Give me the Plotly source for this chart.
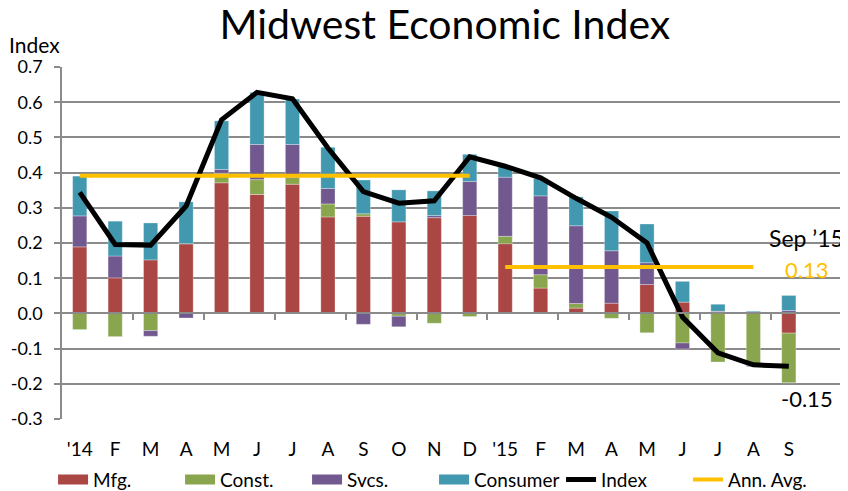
import plotly.graph_objects as go

# Monthly contributions to the index, Jan 2014 - Sep 2015
months = ["'14", "F", "M", "A", "M", "J", "J", "A", "S", "O", "N", "D",
          "'15", "F", "M", "A", "M", "J", "J", "A", "S"]
mfg = [0.189, 0.101, 0.152, 0.198, 0.371, 0.338, 0.367, 0.274, 0.276, 0.260, 0.272,
       0.278, 0.198, 0.072, 0.015, 0.029, 0.082, 0.032, 0.006, 0.002, -0.056]
const = [-0.046, -0.066, -0.049, 0.0, 0.027, 0.042, 0.019, 0.037, 0.007, -0.008, -0.028,
         -0.009, 0.021, 0.038, 0.013, -0.014, -0.055, -0.084, -0.138, -0.148, -0.141]
svcs = [0.088, 0.062, -0.016, -0.013, 0.011, 0.100, 0.094, 0.044, -0.031, -0.030, 0.006,
        0.097, 0.168, 0.224, 0.221, 0.149, 0.062, -0.017, 0.0, -0.003, 0.008]
consumer = [0.113, 0.099, 0.105, 0.119, 0.138, 0.148, 0.129, 0.117, 0.096, 0.091, 0.070,
            0.077, 0.030, 0.049, 0.082, 0.113, 0.110, 0.059, 0.020, 0.004, 0.043]
index = [0.344, 0.196, 0.194, 0.305, 0.550, 0.628, 0.610, 0.470, 0.346, 0.313, 0.320,
         0.445, 0.418, 0.385, 0.327, 0.273, 0.200, -0.010, -0.112, -0.146, -0.150]
ann_avg_2014 = 0.391
ann_avg_2015 = 0.132
avg_2014_span = (0, 11)   # '14 .. D
avg_2015_span = (12, 19)  # '15 .. A

y_ticks = [-0.3, -0.2, -0.1, 0.0, 0.1, 0.2, 0.3, 0.4, 0.5, 0.6, 0.7]

FONT = "Lato"
GRID = "#8a8a8a"

x = list(range(len(months)))
n_slots = len(months) + 1  # one empty slot on the right for the end labels

fig = go.Figure()
series = [
    ("Mfg.", mfg, "#AA4643"),
    ("Const.", const, "#89A54E"),
    ("Svcs.", svcs, "#71588F"),
    ("Consumer", consumer, "#4198AF"),
]
for name, vals, colour in series:
    fig.add_trace(go.Bar(
        x=x, y=vals, name=name, legendgroup=name, showlegend=False,
        marker=dict(color=colour, line=dict(color="rgba(255,255,255,0.5)", width=0.6)),
        width=0.4,
    ))
    # wide flat swatch for the legend, like the Excel original
    fig.add_trace(go.Scatter(
        x=[None], y=[None], name=name, legendgroup=name, mode="lines",
        line=dict(color=colour, width=11), hoverinfo="skip",
    ))

fig.add_trace(go.Scatter(
    x=x, y=index, name="Index", mode="lines",
    line=dict(color="black", width=5),
))

avg_x = (list(range(avg_2014_span[0], avg_2014_span[1] + 1)) + [None]
         + list(range(avg_2015_span[0], avg_2015_span[1] + 1)))
avg_y = ([ann_avg_2014] * (avg_2014_span[1] - avg_2014_span[0] + 1) + [None]
         + [ann_avg_2015] * (avg_2015_span[1] - avg_2015_span[0] + 1))
fig.add_trace(go.Scatter(
    x=avg_x, y=avg_y, name="Ann. Avg.", mode="lines",
    line=dict(color="#FFC000", width=4), connectgaps=False,
))

# invisible helper trace carrying the zero-line axis with its tick marks
fig.add_trace(go.Scatter(x=[None], y=[None], xaxis="x2", showlegend=False, hoverinfo="skip"))

label_x = len(months) - 0.5
fig.add_annotation(x=label_x, y=ann_avg_2015, text="Sep \u201915", showarrow=False,
                   yshift=29, font=dict(size=23, color="black", family=FONT))
fig.add_annotation(x=label_x, y=ann_avg_2015, text=f"{ann_avg_2015:.2f}", showarrow=False,
                   yshift=-3, font=dict(size=22, color="#FFC000", family=FONT))
fig.add_annotation(x=label_x, y=index[-1], text=f"{index[-1]:.2f}", showarrow=False,
                   yshift=-32, font=dict(size=22, color="black", family=FONT))
fig.add_annotation(text="Index", xref="paper", yref="paper", x=0, y=1,
                   xanchor="right", yanchor="middle", yshift=23, showarrow=False,
                   font=dict(size=21, color="black", family=FONT))

# page body adds an 8px offset, so the figure is sized 8px short of the window
fig.update_layout(
    width=840, height=483,
    barmode="relative",
    title=dict(text="Midwest Economic Index", x=0.52, xanchor="center",
               y=0.965, yanchor="middle", font=dict(size=41, color="black", family=FONT)),
    font=dict(family=FONT, size=18, color="black"),
    plot_bgcolor="white", paper_bgcolor="white",
    margin=dict(l=54, r=6, t=59, b=72, autoexpand=False),
    xaxis=dict(
        range=[-0.5, n_slots - 0.5],
        tickvals=x, ticktext=months, tickfont=dict(size=19),
        ticks="outside", ticklen=13, tickcolor="rgba(0,0,0,0)",
        showgrid=False, zeroline=False, showline=False,
    ),
    xaxis2=dict(
        overlaying="x", matches="x", anchor="free", position=0.3,
        tickvals=[i + 0.5 for i in range(1, n_slots, 2)],
        ticks="outside", ticklen=6, tickcolor=GRID, tickwidth=1.5,
        showticklabels=False, showgrid=False, zeroline=False,
        showline=True, linecolor=GRID, linewidth=1.5,
    ),
    yaxis=dict(
        range=[y_ticks[0], y_ticks[-1]],
        tickvals=y_ticks, ticktext=[f"{v:.1f}" for v in y_ticks],
        ticks="outside", ticklen=6, tickcolor=GRID, tickwidth=1.5, ticklabelstandoff=8,
        showgrid=True, gridcolor=GRID, gridwidth=1.5,
        zeroline=False, showline=True, linecolor=GRID, linewidth=1.5,
    ),
    legend=dict(
        orientation="h", x=0.477, xanchor="center", y=-0.172, yanchor="middle",
        font=dict(size=19, family=FONT), traceorder="normal", entrywidth=82,
    ),
)

fig.write_html("out.html")
